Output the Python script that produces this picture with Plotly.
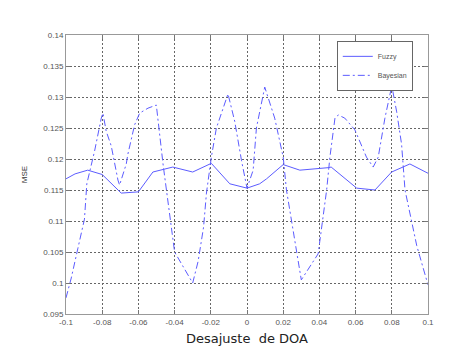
import plotly.graph_objects as go

# Fuzzy series
fuzzy_x = [-0.1, -0.095, -0.088, -0.08, -0.0695, -0.06, -0.052, -0.041, -0.030, -0.0197,
           -0.0095, 0.0, 0.007, 0.0108, 0.02, 0.0292, 0.0448, 0.0465, 0.0606, 0.0707,
           0.0799, 0.090, 0.1]
fuzzy_y = [0.1168, 0.1176, 0.1182, 0.1175, 0.1145, 0.1147, 0.1179, 0.1187, 0.1179, 0.1193,
           0.1160, 0.1153, 0.1160, 0.1168, 0.1191, 0.1182, 0.1186, 0.1187, 0.1153, 0.1150,
           0.1179, 0.1192, 0.1177]

# Bayesian series
bayes_x = [-0.1, -0.0971, -0.0935, -0.0898, -0.0885, -0.0842, -0.0805, -0.0796, -0.0778, -0.075,
           -0.0713, -0.0704, -0.0667, -0.0658, -0.0621, -0.0593, -0.0547, -0.0501, -0.0464, -0.0445,
           -0.040, -0.030, -0.027, -0.024, -0.0224, -0.0197, -0.0169, -0.0105, -0.0068, -0.003,
           0.0, 0.0034, 0.0052, 0.0089, 0.0098, 0.0153, 0.02, 0.0218, 0.0274, 0.030,
           0.0393, 0.044, 0.0458, 0.0486, 0.0504, 0.054, 0.0596, 0.066, 0.0697, 0.0725,
           0.0762, 0.080, 0.0827, 0.0854, 0.0873, 0.0938, 0.1]
bayes_y = [0.0976, 0.1008, 0.1055, 0.1103, 0.1160, 0.1213, 0.1266, 0.1274, 0.1245, 0.1221,
           0.1166, 0.1158, 0.1192, 0.1208, 0.1255, 0.1274, 0.1282, 0.1287, 0.1192, 0.1150,
           0.1050, 0.1000, 0.1035, 0.1090, 0.1145, 0.1203, 0.1250, 0.1305, 0.1261, 0.1197,
           0.1153, 0.1182, 0.1250, 0.1303, 0.1316, 0.1266, 0.1203, 0.1150, 0.1055, 0.1005,
           0.1047, 0.1150, 0.1203, 0.1266, 0.1271, 0.1266, 0.1247, 0.1203, 0.1187, 0.1203,
           0.1266, 0.1318, 0.1276, 0.1224, 0.1150, 0.1060, 0.0997]

x_ticks = [-0.1, -0.08, -0.06, -0.04, -0.02, 0.0, 0.02, 0.04, 0.06, 0.08, 0.1]
x_ticktext = ["-0.1", "-0.08", "-0.06", "-0.04", "-0.02", "0", "0.02", "0.04", "0.06", "0.08", "0.1"]
y_ticks = [0.095, 0.1, 0.105, 0.11, 0.115, 0.12, 0.125, 0.13, 0.135, 0.14]
y_ticktext = ["0.095", "0.1", "0.105", "0.11", "0.115", "0.12", "0.125", "0.13", "0.135", "0.14"]

line_color = "#5c5cff"
tick_font = dict(family="Liberation Sans Narrow, Liberation Sans, Arial", size=8, color="#555555")

fig = go.Figure()
fig.add_trace(go.Scatter(x=fuzzy_x, y=fuzzy_y, mode="lines", name="Fuzzy",
                         line=dict(color=line_color, width=1)))
fig.add_trace(go.Scatter(x=bayes_x, y=bayes_y, mode="lines", name="Bayesian",
                         line=dict(color=line_color, width=1, dash="7px,3px,2px,3px")))

axis_common = dict(
    showgrid=True, gridcolor="#666666", griddash="2px,2px", gridwidth=1,
    showline=True, linecolor="#999999", linewidth=1, mirror="ticks",
    ticks="inside", ticklen=4, tickcolor="#777777",
    zeroline=False, tickfont=tick_font,
)

fig.update_xaxes(range=[-0.1, 0.1], tickvals=x_ticks, ticktext=x_ticktext,
                 title=dict(text="Desajuste  de DOA",
                            font=dict(family="DejaVu Sans", size=13, color="#222222"),
                            standoff=8),
                 **axis_common)
fig.update_yaxes(range=[0.095, 0.14], tickvals=y_ticks, ticktext=y_ticktext,
                 title=dict(text="MSE", font=dict(family="Liberation Sans Narrow, Liberation Sans", size=8, color="#333333"),
                            standoff=14),
                 **axis_common)

fig.update_layout(
    width=459, height=356,
    margin=dict(l=66, r=31, t=35, b=36),
    paper_bgcolor="white", plot_bgcolor="white",
    showlegend=True,
    legend=dict(x=0.748, y=0.979, xanchor="left", yanchor="top",
                bgcolor="white", bordercolor="#666666", borderwidth=1,
                font=dict(family="Liberation Sans Narrow, Liberation Sans", size=7, color="#555555"),
                itemwidth=30, tracegroupgap=0),
)

fig.write_html("out.html")
